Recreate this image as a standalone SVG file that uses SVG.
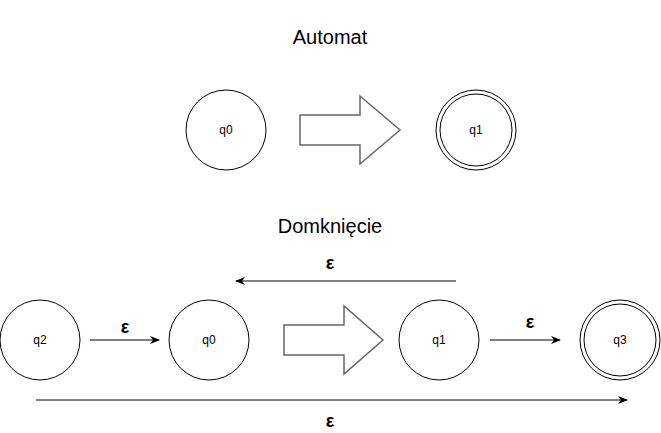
<svg xmlns="http://www.w3.org/2000/svg" width="661" height="433" viewBox="0 0 661 433">
<defs>
<marker id="ah" markerWidth="10" markerHeight="8" refX="9" refY="4" orient="auto" markerUnits="userSpaceOnUse">
<path d="M0,0 L10,4 L0,8 L3,4 Z" fill="#000"/>
</marker>
<style>
.st{fill:#fff;stroke:#000;stroke-width:1}
.lbl{font-family:"Liberation Sans",Arial,sans-serif;font-size:12px;fill:#000;text-anchor:middle}
.title{font-family:"Liberation Sans",Arial,sans-serif;font-size:20px;fill:#000;text-anchor:middle}
.eps{font-family:"Liberation Sans",Arial,sans-serif;font-size:18px;font-weight:bold;fill:#000;text-anchor:middle}
.blk{fill:#fff;stroke:#666;stroke-width:1.5}
.edge{stroke:#000;stroke-width:1;fill:none;marker-end:url(#ah)}
</style>
</defs>
<rect width="661" height="433" fill="#fff"/>
<text class="title" x="330" y="44">Automat</text>
<text class="title" x="330" y="233">Domknięcie</text>
<g id="top-q0"><circle class="st" cx="226" cy="130" r="40"/><text class="lbl" x="226" y="134">q0</text></g>
<g id="top-arrow"><path class="blk" d="M300,115 L360,115 L360,96 L400,130 L360,164 L360,145 L300,145 Z"/></g>
<g id="top-q1"><circle class="st" cx="476" cy="130" r="40"/><circle class="st" cx="476" cy="130" r="36"/><text class="lbl" x="476" y="134">q1</text></g>
<g id="q2"><circle class="st" cx="40" cy="340" r="40"/><text class="lbl" x="40" y="344">q2</text></g>
<g id="q0"><circle class="st" cx="209" cy="340" r="40"/><text class="lbl" x="209" y="344">q0</text></g>
<g id="bottom-arrow"><path class="blk" d="M284,325 L344,325 L344,306 L383,340 L344,374 L344,355 L284,355 Z"/></g>
<g id="q1"><circle class="st" cx="439" cy="340" r="40"/><text class="lbl" x="439" y="344">q1</text></g>
<g id="q3"><circle class="st" cx="620" cy="340" r="40"/><circle class="st" cx="620" cy="340" r="36"/><text class="lbl" x="620" y="344">q3</text></g>
<g id="connectors">
<line class="edge" x1="90" y1="340" x2="159" y2="340"/>
<line class="edge" x1="490" y1="340" x2="560" y2="340"/>
<line class="edge" x1="456" y1="281" x2="236" y2="281"/>
<line class="edge" x1="36" y1="400" x2="627" y2="400"/>
<text class="eps" x="125" y="333">ε</text>
<text class="eps" x="530" y="328">ε</text>
<text class="eps" x="330" y="269">ε</text>
<text class="eps" x="330" y="427">ε</text>
</g>
</svg>
